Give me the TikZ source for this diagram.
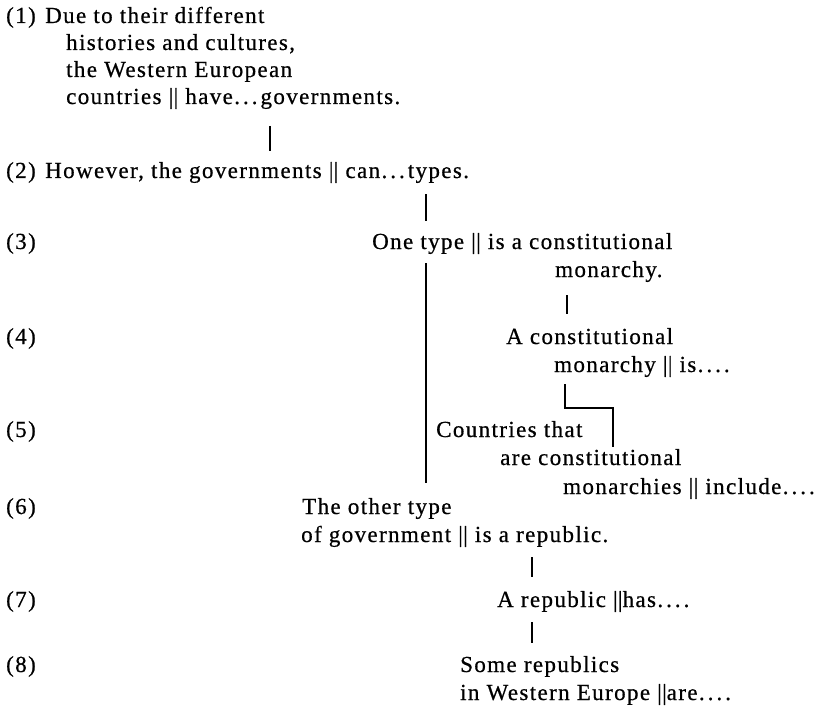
\documentclass[tikz,border=0pt]{standalone}
\usepackage{fontspec}
\setmainfont{Liberation Serif}[LetterSpace=6,FakeBold=0.6]
% double bar that splits subject from predicate
\newcommand\dbar{\mbox{|\kern0.3pt|}}
% widely spaced runs of dots
\newcommand\thr{.\kern3pt.\kern3pt.\kern3pt}
\newcommand\fou{.\kern3pt.\kern3pt.\kern3pt.}
\tikzset{
  txt/.style={anchor=base west, inner sep=0pt, font=\fontsize{23pt}{28pt}\selectfont},
  link/.style={line width=1.2pt},
}
\begin{document}
\begin{tikzpicture}[x=1pt,y=-1pt]
\fill[white] (0,0) rectangle (833,706);
\useasboundingbox (0,0) rectangle (833,706);

% row numbers
\node[txt] (l1) at (6,23)  {(1)};
\node[txt] (l2) at (6,178) {(2)};
\node[txt] (l3) at (6,249) {(3)};
\node[txt] (l4) at (6,344) {(4)};
\node[txt] (l5) at (6,437) {(5)};
\node[txt] (l6) at (6,514) {(6)};
\node[txt] (l7) at (6,607) {(7)};
\node[txt] (l8) at (6,672) {(8)};

% sentence 1
\node[txt] (s1a) at (45,23)  {Due to their different};
\node[txt] (s1b) at (66,50)  {histories and cultures,};
\node[txt] (s1c) at (66,77)  {the Western European};
\node[txt] (s1d) at (66,104) {countries \dbar{} have\thr governments.};

% sentence 2
\node[txt] (s2) at (45,178) {However, the governments \dbar{} can\thr types.};

% sentence 3
\node[txt] (s3a) at (372,249) {One type \dbar{} is a constitutional};
\node[txt] (s3b) at (555,277) {monarchy.};

% sentence 4
\node[txt] (s4a) at (506,344) {A constitutional};
\node[txt] (s4b) at (554,372) {monarchy \dbar{} is\fou};

% sentence 5
\node[txt] (s5a) at (436,437) {Countries that};
\node[txt] (s5b) at (500,465) {are constitutional};
\node[txt] (s5c) at (563,494) {monarchies \dbar{} include\fou};

% sentence 6
\node[txt] (s6a) at (302,514) {The other type};
\node[txt] (s6b) at (301,542) {of government \dbar{} is a republic.};

% sentence 7
\node[txt] (s7) at (497,607) {A republic \dbar{}has\fou};

% sentence 8
\node[txt] (s8a) at (460,672) {Some republics};
\node[txt] (s8b) at (460,700) {in Western Europe \dbar{}are\fou};

% connector ends
\coordinate (c12t) at (270,126); \coordinate (c12b) at (270,151);
\coordinate (c23t) at (426,194); \coordinate (c23b) at (426,221);
\coordinate (c36t) at (426,263); \coordinate (c36b) at (426,483);
\coordinate (c34t) at (567,295); \coordinate (c34b) at (567,314);
\coordinate (c45t) at (565,384); \coordinate (c45m) at (613,408);
\coordinate (c45b) at (613,447);
\coordinate (c67t) at (532,557); \coordinate (c67b) at (532,577);
\coordinate (c78t) at (532,622); \coordinate (c78b) at (532,643);

\draw[link] (c12t) -- (c12b);
\draw[link] (c23t) -- (c23b);
\draw[link] (c36t) -- (c36b);
\draw[link] (c34t) -- (c34b);
\draw[link] (c45t) |- (c45m) -- (c45b);
\draw[link] (c67t) -- (c67b);
\draw[link] (c78t) -- (c78b);
\end{tikzpicture}
\end{document}
